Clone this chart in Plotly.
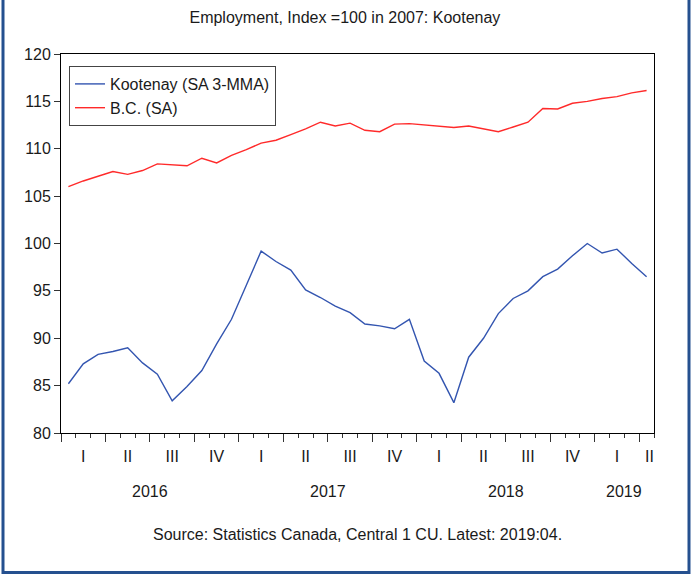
import plotly.graph_objects as go

# ---- data (monthly, Jan 2016 - Apr 2019) ----
months = [f"{y}-{m:02d}" for y in (2016, 2017, 2018, 2019) for m in range(1, 13)][:40]
kootenay = [85.2, 87.3, 88.3, 88.6, 89.0, 87.4, 86.2, 83.4, 84.9, 86.6,
            89.4, 92.0, 95.6, 99.2, 98.1, 97.2, 95.1, 94.3, 93.4, 92.7,
            91.5, 91.3, 91.0, 92.0, 87.6, 86.3, 83.2, 88.0, 90.0, 92.6,
            94.2, 95.0, 96.5, 97.3, 98.7, 100.0, 99.0, 99.4, 97.9, 96.5]
bc = [106.0, 106.6, 107.1, 107.6, 107.3, 107.7, 108.4, 108.3, 108.2, 109.0,
      108.5, 109.3, 109.9, 110.6, 110.9, 111.5, 112.1, 112.8, 112.4, 112.7,
      111.95, 111.8, 112.6, 112.65, 112.5, 112.4, 112.25, 112.4, 112.1, 111.8,
      112.3, 112.8, 114.25, 114.2, 114.8, 115.0, 115.3, 115.5, 115.9, 116.15]
quarter_labels = ["I", "II", "III", "IV"] * 3 + ["I", "II"]
year_labels = ["2016", "2017", "2018", "2019"]
series_names = ["Kootenay (SA 3-MMA)", "B.C. (SA)"]
title_text = "Employment, Index =100 in 2007: Kootenay"
source_text = "Source: Statistics Canada, Central 1 CU. Latest: 2019:04."

# ---- geometry ----
W, H = 691, 579
ML, MR, MT, MB = 61, 37, 54, 146
PW, PH = W - ML - MR, H - MT - MB
FONT = "Liberation Sans, Arial, sans-serif"
FS = 16

n = len(months)
xpos = [i + 0.5 for i in range(n)]
q_centers = []
for q in range(len(quarter_labels)):
    start, end = 3 * q, min(3 * q + 3, n)
    q_centers.append((start + end) / 2 + (0.2 if end - start < 3 else 0))
boundaries = list(range(0, n, 3))
years_x = []
for k in range(len(year_labels)):
    start, end = 12 * k, min(12 * k + 12, n)
    years_x.append((start + end) / 2)

def px_x(p):
    return (p - ML) / PW

def px_y(p):
    return (H - MB - p) / PH

fig = go.Figure()
fig.add_trace(go.Scatter(x=xpos, y=kootenay, mode="lines", name=series_names[0],
                         line=dict(color="#3355B0", width=1.4)))
fig.add_trace(go.Scatter(x=xpos, y=bc, mode="lines", name=series_names[1],
                         line=dict(color="#FF2A2A", width=1.4)))
fig.add_trace(go.Scatter(x=[0, n], y=[80, 80], xaxis="x2", mode="lines",
                         line=dict(width=0), showlegend=False, hoverinfo="skip"))

fig.update_layout(
    width=W, height=H,
    margin=dict(l=ML, r=MR, t=MT, b=MB),
    paper_bgcolor="white", plot_bgcolor="white",
    font=dict(family=FONT, size=FS, color="#1a1a1a"),
    showlegend=True,
    legend=dict(x=px_x(69), y=px_y(66), xanchor="left", yanchor="top",
                bordercolor="#444444", borderwidth=1, bgcolor="white",
                font=dict(size=FS), tracegroupgap=0),
    title=dict(text=title_text, x=px_x(357), xanchor="center",
               y=1 - 17 / H, yanchor="middle", font=dict(size=FS)),
    xaxis=dict(range=[0, n], tickmode="array", tickvals=q_centers,
               ticktext=quarter_labels, ticks="", ticklabelstandoff=9,
               showgrid=False, zeroline=False, showline=True, mirror=True,
               linecolor="black", linewidth=1,
               minor=dict(tickmode="linear", tick0=0, dtick=1, ticks="outside",
                          ticklen=4, tickcolor="#333333", showgrid=False)),
    xaxis2=dict(range=[0, n], overlaying="x", side="bottom", anchor="y",
                tickmode="array", tickvals=boundaries, ticks="outside",
                ticklen=8, tickcolor="#333333", showticklabels=False,
                showgrid=False, zeroline=False, showline=False),
    yaxis=dict(range=[80, 120], tickmode="linear", tick0=80, dtick=5,
               ticks="outside", ticklen=6, tickcolor="#333333",
               showgrid=False, zeroline=False, showline=True, mirror=True,
               linecolor="black", linewidth=1),
)

for yl, xc in zip(year_labels, years_x):
    fig.add_annotation(text=yl, x=xc, xref="x", y=px_y(491), yref="paper",
                       showarrow=False, xanchor="center", yanchor="middle",
                       font=dict(size=FS))
fig.add_annotation(text=source_text, x=px_x(357), xref="paper", y=px_y(534),
                   yref="paper", showarrow=False, xanchor="center",
                   yanchor="middle", font=dict(size=FS))

fig.add_shape(type="rect", xref="paper", yref="paper",
              x0=px_x(3), x1=px_x(689), y0=px_y(572.5), y1=px_y(-2),
              line=dict(color="#25508F", width=3), fillcolor="rgba(0,0,0,0)",
              layer="above")

fig.write_html("out.html", config={"displayModeBar": False},
               post_script="document.body.style.margin='0';document.body.style.overflow='hidden';")
